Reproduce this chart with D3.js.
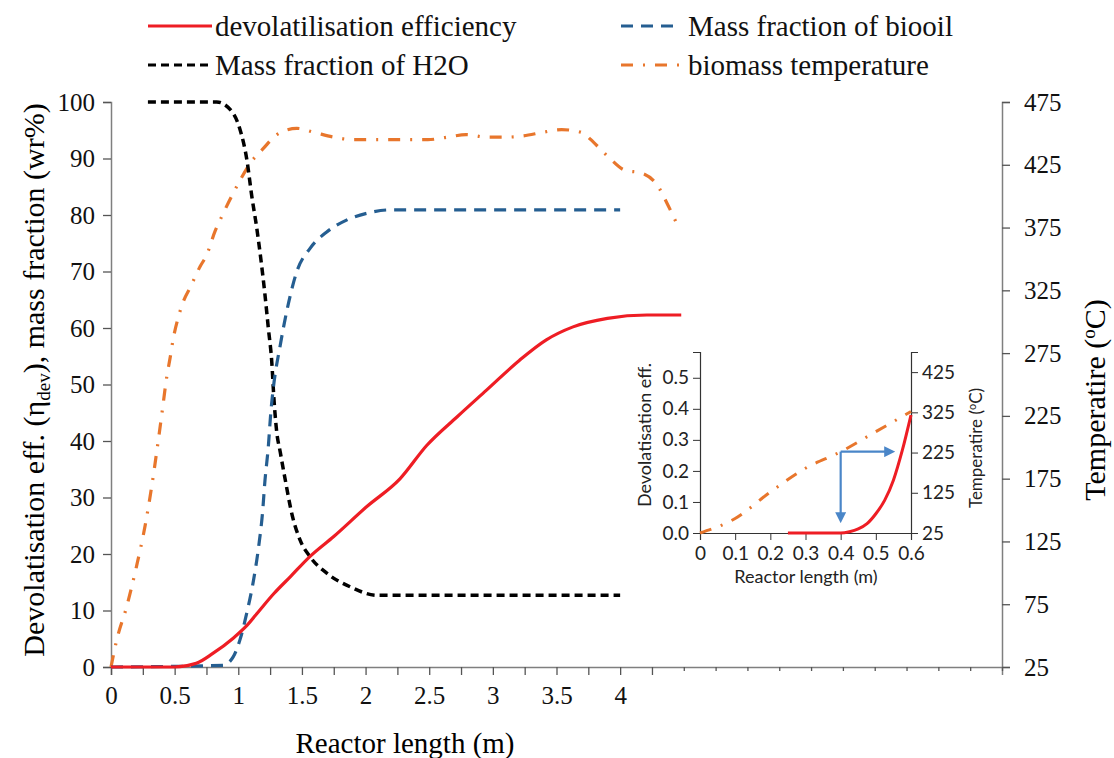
<!DOCTYPE html>
<meta charset="utf-8">
<html>
<head>
<title>Reactor length</title>
<script src="https://cdn.jsdelivr.net/npm/d3@7"></script>
<style>
  body { margin: 0; background: #fff; }
</style>
</head>
<body>
<script>

// devolatilisation efficiency (%) vs reactor length (m)
var devLength = [0, 0.5, 0.67, 0.8, 0.96, 1.07, 1.17, 1.28, 1.41, 1.56, 1.75, 2.01, 2.27, 2.48, 2.72, 2.95, 3.21, 3.42, 3.63, 3.9, 4.21, 4.48];
var devEff    = [0, 0, 0.65, 2.4, 5.1, 7.4, 10.1, 13, 16, 19.5, 23.1, 28.4, 33.3, 39.2, 44.3, 49, 54.3, 57.9, 60.2, 61.7, 62.3, 62.3];

// mass fraction of H2O (%)
var h2oLength = [0.29, 0.83, 0.95, 1.01, 1.07, 1.105, 1.145, 1.18, 1.21, 1.236, 1.263, 1.28, 1.3, 1.33, 1.37, 1.42, 1.485, 1.564, 1.695, 1.878, 2.09, 2.5, 3, 3.5, 4];
var h2oFrac   = [100, 100, 98.3, 95.4, 89.4, 83.5, 77.7, 71.7, 65.8, 60, 54, 47.5, 42, 38, 33, 27.2, 22.5, 19.5, 16.6, 14.2, 12.7, 12.7, 12.7, 12.7, 12.7];

// mass fraction of biooil (%)
var oilLength = [0, 0.88, 0.96, 1.013, 1.066, 1.12, 1.16, 1.19, 1.21, 1.236, 1.255, 1.276, 1.33, 1.38, 1.46, 1.564, 1.695, 1.85, 2.01, 2.19, 3, 4];
var oilFrac   = [0, 0.3, 1.8, 4.8, 9.5, 15.4, 21.3, 27.2, 33.1, 39, 44.9, 49.5, 57, 62.9, 70, 74.1, 77, 79.1, 80.3, 80.9, 80.9, 80.9];

// biomass temperature (C), right axis
var tempLength = [0, 0.045, 0.123, 0.2, 0.267, 0.32, 0.36, 0.4, 0.438, 0.464, 0.49, 0.53, 0.568, 0.621, 0.7, 0.751, 0.817, 0.871, 0.948, 1.0, 1.092, 1.197, 1.303, 1.46, 1.59, 1.75, 1.9, 2.19, 2.49, 2.64, 2.79, 2.95, 3.1, 3.24, 3.4, 3.54, 3.69, 3.79, 3.84, 3.92, 4.03, 4.18, 4.29, 4.37, 4.45];
var tempC      = [25, 46.5, 73, 105, 137, 169, 197, 227, 256, 271, 287, 304, 316, 327, 344, 353, 372, 384, 400, 410, 426, 438, 449, 454, 451, 447, 445, 445, 445, 447, 449, 447, 447, 448, 451, 453, 451, 443, 438, 430, 421, 418, 409, 394, 377];

// inset: first 0.6 m
var insetDevLength = [0.25, 0.3, 0.35, 0.4, 0.425, 0.45, 0.475, 0.5, 0.525, 0.55, 0.575, 0.6];
var insetDev       = [0, 0, 0, 0, 0.004, 0.013, 0.03, 0.062, 0.105, 0.17, 0.265, 0.38];
var insetTempLength = [0, 0.1, 0.2, 0.3, 0.4, 0.5, 0.6];
var insetTemp       = [25, 61, 127, 186, 227, 277, 327];

var xTicks = d3.range(0, 7.001, 0.25);
var yTicks = d3.range(0, 100.1, 10);
var tTicks = d3.range(25, 476, 50);

var legendItems = [
  {name: "devolatilisation efficiency", color: "#ee1d24", dash: null, col: 0, row: 0},
  {name: "Mass fraction of biooil", color: "#255e91", dash: "12,8", col: 1, row: 0},
  {name: "Mass fraction of H2O", color: "#000", dash: "8,5", col: 0, row: 1},
  {name: "biomass temperature", color: "#e8762c", dash: "12,10,2,10", col: 1, row: 1}
];

var serif = "Liberation Serif";
var sans = "Lato";

var width = 1114, height = 758;

var svg = d3.select("body").append("svg")
    .attr("width", width)
    .attr("height", height);

var main = svg.append("g").attr("font-family", serif);

var x = d3.scaleLinear().domain([0, 7]).range([111, 1002]);
var y = d3.scaleLinear().domain([0, 100]).range([667, 102]);
var yT = d3.scaleLinear().domain([25, 475]).range([667, 102]);

function zip(a, b) {
  return a.map(function(v, i) { return [v, b[i]]; });
}

// axes
var xAxis = main.append("g")
    .attr("transform", "translate(0,667)")
    .call(d3.axisBottom(x).tickValues(xTicks).tickSize(8).tickPadding(11)
      .tickFormat(function(d) { return (d <= 4 && d % 0.5 == 0) ? d3.format("")(d) : ""; }));
xAxis.selectAll(".tick line").attr("y2", function(d) { return d > 4.3 ? 4 : 8; });

var yAxis = main.append("g")
    .attr("transform", "translate(111,0)")
    .call(d3.axisLeft(y).tickValues(yTicks).tickSize(8).tickPadding(8));

var tAxis = main.append("g")
    .attr("transform", "translate(1002,0)")
    .call(d3.axisRight(yT).tickValues(tTicks).tickSize(8).tickPadding(14));

[xAxis, yAxis, tAxis].forEach(function(a) {
  a.attr("font-family", serif).attr("font-size", 25);
  a.select(".domain").attr("stroke", "#7f7f7f").attr("stroke-width", 1.5);
  a.selectAll(".tick line").attr("stroke", "#555").attr("stroke-width", 1.3);
  a.selectAll("text").attr("fill", "#111");
});

// axis titles
main.append("text")
    .attr("x", 405).attr("y", 753)
    .attr("text-anchor", "middle")
    .attr("font-size", 29)
    .text("Reactor length (m)");

var yl = main.append("text")
    .attr("transform", "translate(44,380) rotate(-90)")
    .attr("text-anchor", "middle")
    .attr("font-size", 30);
yl.append("tspan").text("Devolatisation eff. (\u03b7");
yl.append("tspan").attr("font-size", 19).attr("dy", 6).text("dev");
yl.append("tspan").attr("dy", -6).text("), mass fraction (wr%)");

var tl = main.append("text")
    .attr("transform", "translate(1105,400) rotate(-90)")
    .attr("text-anchor", "middle")
    .attr("font-size", 30);
tl.append("tspan").text("Temperatire (");
tl.append("tspan").attr("font-size", 19).attr("dy", -10).text("o");
tl.append("tspan").attr("dy", 10).text("C)");

// curves
var line = d3.line()
    .x(function(d) { return x(d[0]); })
    .y(function(d) { return y(d[1]); })
    .curve(d3.curveMonotoneX);

var tLine = d3.line()
    .x(function(d) { return x(d[0]); })
    .y(function(d) { return yT(d[1]); })
    .curve(d3.curveMonotoneX);

main.append("path")
    .attr("d", tLine(zip(tempLength, tempC)))
    .attr("fill", "none").attr("stroke", legendItems[3].color)
    .attr("stroke-width", 3.2).attr("stroke-dasharray", legendItems[3].dash);

main.append("path")
    .attr("d", line(zip(h2oLength, h2oFrac)))
    .attr("fill", "none").attr("stroke", legendItems[2].color)
    .attr("stroke-width", 3.5).attr("stroke-dasharray", legendItems[2].dash);

main.append("path")
    .attr("d", line(zip(oilLength, oilFrac)))
    .attr("fill", "none").attr("stroke", legendItems[1].color)
    .attr("stroke-width", 3.2).attr("stroke-dasharray", legendItems[1].dash);

main.append("path")
    .attr("d", line(zip(devLength, devEff)))
    .attr("fill", "none").attr("stroke", legendItems[0].color)
    .attr("stroke-width", 3.2);

// legend
var lg = main.selectAll(".legend")
    .data(legendItems)
    .enter().append("g")
    .attr("class", "legend")
    .attr("transform", function(d) {
      return "translate(" + (d.col ? 621 : 148) + "," + (d.row ? 65 : 26) + ")";
    });

lg.append("line")
    .attr("x1", 0).attr("x2", function(d) { return d.col ? 60 : 64; })
    .attr("stroke", function(d) { return d.color; })
    .attr("stroke-width", 3.2)
    .attr("stroke-dasharray", function(d) { return d.dash; });

lg.append("text")
    .attr("x", 67)
    .attr("y", 10)
    .attr("font-size", 29)
    .attr("fill", "#111")
    .text(function(d) { return d.name; });

// inset
var inset = svg.append("g").attr("font-family", sans);

var ix = d3.scaleLinear().domain([0, 0.6]).range([700, 911]);
var iy = d3.scaleLinear().domain([0, 0.583]).range([533, 352]);
var iyT = d3.scaleLinear().domain([25, 475]).range([533, 352]);

var ixAxis = inset.append("g")
    .attr("transform", "translate(0,533)")
    .call(d3.axisBottom(ix).tickValues(d3.range(0, 0.61, 0.1)).tickSize(7).tickPadding(7)
      .tickFormat(function(d) { return d == 0 ? "0" : d3.format(".1f")(d); }));

var iyAxis = inset.append("g")
    .attr("transform", "translate(700,0)")
    .call(d3.axisLeft(iy).tickValues(d3.range(0, 0.51, 0.1)).tickSize(7).tickPadding(4)
      .tickFormat(d3.format(".1f")));

var itAxis = inset.append("g")
    .attr("transform", "translate(911,0)")
    .call(d3.axisRight(iyT).tickValues([25, 125, 225, 325, 425]).tickSize(7).tickPadding(4));

[ixAxis, iyAxis, itAxis].forEach(function(a) {
  a.attr("font-family", sans).attr("font-size", 19);
  a.select(".domain").attr("stroke", "#333").attr("stroke-width", 1.2);
  a.selectAll(".tick line").attr("stroke", "#333");
  a.selectAll("text").attr("fill", "#222");
});

inset.append("text")
    .attr("x", 806).attr("y", 583)
    .attr("text-anchor", "middle")
    .attr("font-size", 18)
    .attr("fill", "#222")
    .text("Reactor length (m)");

inset.append("text")
    .attr("transform", "translate(651,435) rotate(-90)")
    .attr("text-anchor", "middle")
    .attr("font-size", 18)
    .attr("fill", "#222")
    .text("Devolatisation eff.");

var itl = inset.append("text")
    .attr("transform", "translate(982,448) rotate(-90)")
    .attr("text-anchor", "middle")
    .attr("font-size", 17)
    .attr("fill", "#222");
itl.append("tspan").text("Temperatire (");
itl.append("tspan").attr("font-size", 11).attr("dy", -6).text("o");
itl.append("tspan").attr("dy", 6).text("C)");

var iLine = d3.line()
    .x(function(d) { return ix(d[0]); })
    .y(function(d) { return iy(d[1]); })
    .curve(d3.curveMonotoneX);

var iTLine = d3.line()
    .x(function(d) { return ix(d[0]); })
    .y(function(d) { return iyT(d[1]); })
    .curve(d3.curveMonotoneX);

inset.append("path")
    .attr("d", iTLine(zip(insetTempLength, insetTemp)))
    .attr("fill", "none").attr("stroke", "#e8762c")
    .attr("stroke-width", 3).attr("stroke-dasharray", "12,10,2,10");

inset.append("path")
    .attr("d", iLine(zip(insetDevLength, insetDev)))
    .attr("fill", "none").attr("stroke", "#ee1d24")
    .attr("stroke-width", 3);

// arrows pointing from the 0.4 m point to both axes
var defs = svg.append("defs");
defs.append("marker")
    .attr("id", "arrow")
    .attr("viewBox", "0 0 10 10")
    .attr("refX", 2).attr("refY", 5)
    .attr("markerWidth", 5).attr("markerHeight", 5)
    .attr("orient", "auto")
    .append("path")
    .attr("d", "M0,0L10,5L0,10Z")
    .attr("fill", "#4a86c8");

var corner = [0.4, 0.262];
inset.append("path")
    .attr("d", "M" + ix(corner[0]) + "," + iy(corner[1]) + "V" + iy(0.06))
    .attr("stroke", "#4a86c8").attr("stroke-width", 2.2).attr("fill", "none")
    .attr("marker-end", "url(#arrow)");
inset.append("path")
    .attr("d", "M" + ix(corner[0]) + "," + iy(corner[1]) + "H" + ix(0.53))
    .attr("stroke", "#4a86c8").attr("stroke-width", 2.2).attr("fill", "none")
    .attr("marker-end", "url(#arrow)");

</script>
</body>
</html>
